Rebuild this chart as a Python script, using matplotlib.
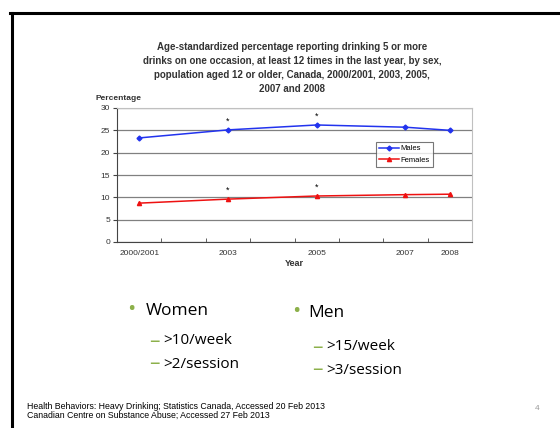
import matplotlib.pyplot as plt
from matplotlib.lines import Line2D

# Data
years = ['2000/2001', '2003', '2005', '2007', '2008']
year_pos = [0, 2, 4, 6, 7]          # slots on the category axis (2001..2008)
males = [23.3, 25.1, 26.2, 25.7, 25.0]
females = [8.7, 9.6, 10.3, 10.6, 10.7]
significant = [1, 2]                 # indices flagged with *

title = ('Age-standardized percentage reporting drinking 5 or more\n'
         'drinks on one occasion, at least 12 times in the last year, by sex,\n'
         'population aged 12 or older, Canada, 2000/2001, 2003, 2005,\n'
         '2007 and 2008')

fig = plt.figure(figsize=(5.6, 4.28), dpi=100)
fig.patch.set_facecolor('white')

# slide frame
fig.add_artist(Line2D([10 / 560, 1], [1 - 12.5 / 428] * 2, color='black', lw=2.2))
fig.add_artist(Line2D([11.5 / 560] * 2, [0, 1 - 12.5 / 428], color='black', lw=2.2))

ax = fig.add_axes([117 / 560, 1 - 242 / 428, 355 / 560, 134 / 428])
ax.plot(year_pos, males, color='#2233ee', lw=1.1, marker='D', ms=2.5, label='Males')
ax.plot(year_pos, females, color='#ee1111', lw=1.1, marker='^', ms=3, label='Females')
for i in significant:
    ax.text(year_pos[i], males[i] + 0.9, '*', ha='center', va='bottom', fontsize=6.5, family='Liberation Sans')
    ax.text(year_pos[i], females[i] + 0.9, '*', ha='center', va='bottom', fontsize=6.5, family='Liberation Sans')

ax.set_xlim(-0.5, 7.5)
ax.set_ylim(0, 30)
ax.set_yticks(range(0, 31, 5))
ax.set_xticks(year_pos)
ax.set_xticklabels(years)
ax.set_xticks([x - 0.5 for x in range(9)], minor=True)
ax.tick_params(axis='x', which='major', length=0, pad=6)
ax.tick_params(axis='x', which='minor', length=3, direction='in', color='#444444')
ax.tick_params(axis='y', length=3, direction='out', color='#444444', pad=2)
for lab in ax.get_xticklabels() + ax.get_yticklabels():
    lab.set_fontsize(6)
    lab.set_family('Liberation Sans')
    lab.set_color('#333333')
ax.yaxis.grid(True, color='#808080', lw=0.9)
ax.set_axisbelow(True)
for s in ['left', 'bottom']:
    ax.spines[s].set_color('#444444')
    ax.spines[s].set_linewidth(0.8)
for s in ['top', 'right']:
    ax.spines[s].set_color('#c0c0c0')
    ax.spines[s].set_linewidth(0.8)

ax.set_xlabel('Year', fontsize=6.5, family='Liberation Sans', weight='bold', labelpad=1, color='#333333')
fig.text(96 / 560, 1 - 98 / 428, 'Percentage', fontsize=6, family='Liberation Sans',
         weight='bold', ha='left', va='center', color='#333333')

leg = ax.legend(loc='upper left', bbox_to_anchor=(0.72, 0.775), frameon=True,
                fancybox=False, edgecolor='#555555', handlelength=2.6, borderpad=0.4,
                labelspacing=0.5, handletextpad=0.2, prop={'family': 'Liberation Sans', 'size': 5.5})
leg.get_frame().set_linewidth(0.8)

fig.text(292 / 560, 1 - 42 / 428, title, ha='center', va='top', fontsize=7,
         family='Liberation Sans', weight='bold', linespacing=1.5, color='#333333')

# bullets
green = '#8cb04a'
body = 'Open Sans'
fig.text(131 / 560, 1 - 310 / 428, '•', color=green, fontsize=16, ha='center', va='center', family=body)
fig.text(146 / 560, 1 - 311 / 428, 'Women', fontsize=12.5, ha='left', va='center', family=body)
fig.text(296 / 560, 1 - 312 / 428, '•', color=green, fontsize=16, ha='center', va='center', family=body)
fig.text(308 / 560, 1 - 313 / 428, 'Men', fontsize=12.5, ha='left', va='center', family=body)
subs = [(150, 341, '>10/week'), (150, 364, '>2/session'),
        (313, 347, '>15/week'), (313, 370, '>3/session')]
for x, y, t in subs:
    fig.text((x - 1) / 560, 1 - y / 428, '–', color=green, fontsize=15, ha='left', va='center', family=body)
    fig.text((x + 13) / 560, 1 - y / 428, t, fontsize=11, ha='left', va='center', family=body)

fig.text(27 / 560, 1 - 411 / 428,
         'Health Behaviors: Heavy Drinking; Statistics Canada, Accessed 20 Feb 2013\n'
         'Canadian Centre on Substance Abuse; Accessed 27 Feb 2013',
         fontsize=6.3, family='Liberation Sans', ha='left', va='center', linespacing=1.0)
fig.text(537 / 560, 1 - 408 / 428, '4', fontsize=6, color='#999999', family='Liberation Sans',
         ha='center', va='center')

fig.savefig('out.png', dpi=100)
